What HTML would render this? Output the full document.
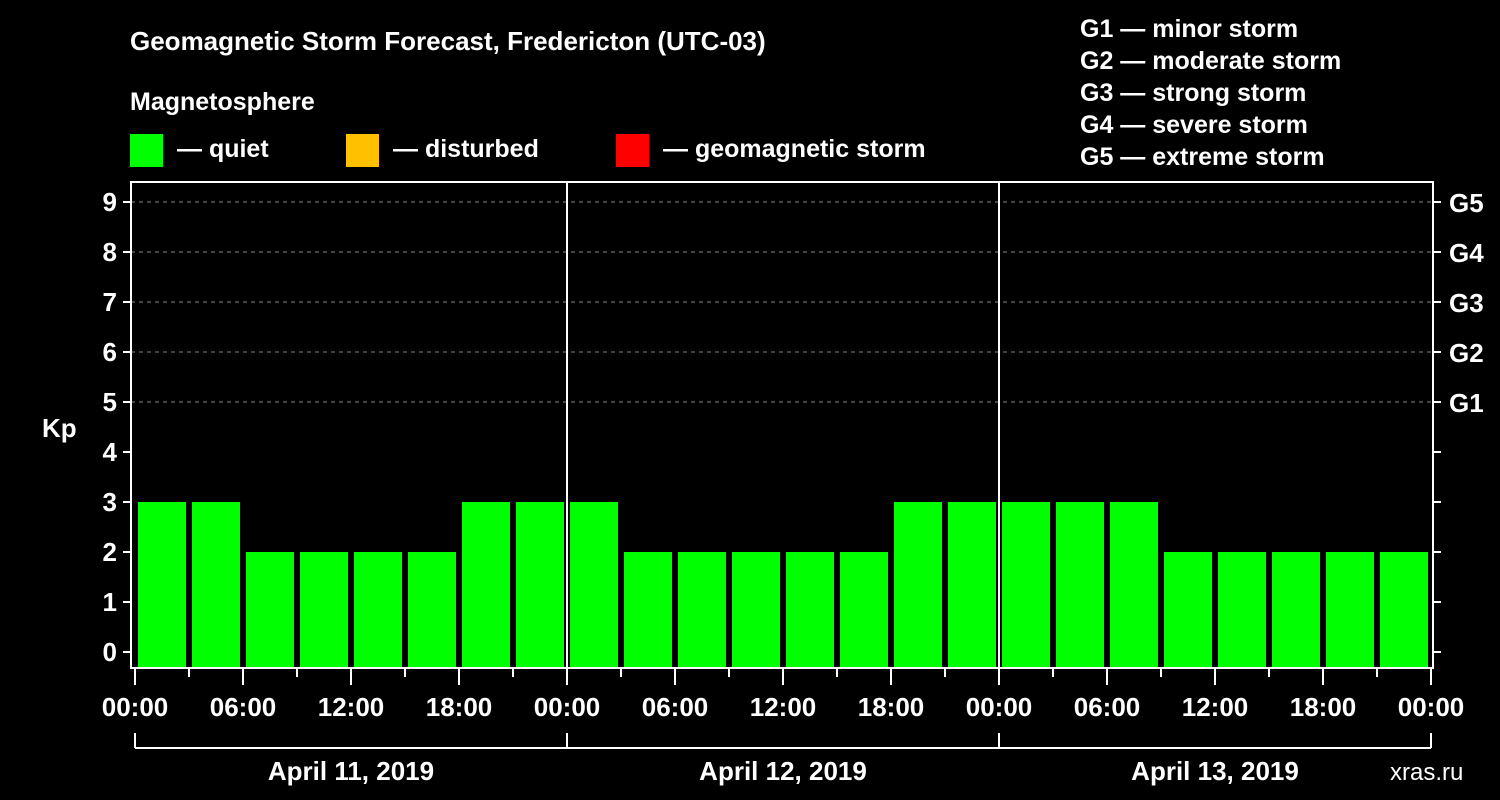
<!DOCTYPE html>
<html><head><meta charset="utf-8"><style>
html,body{margin:0;padding:0;background:#000;}
svg{display:block;font-family:"Liberation Sans",Arial,sans-serif;font-weight:bold;}
</style></head><body>
<svg id="c" width="1500" height="800" viewBox="0 0 1500 800">
<rect x="0" y="0" width="1500" height="800" fill="#000"/>
<text x="130" y="50" fill="#fff" font-size="26">Geomagnetic Storm Forecast, Fredericton (UTC-03)</text>
<text x="130" y="110" fill="#fff" font-size="25">Magnetosphere</text>
<g><rect x="130" y="134" width="33" height="33" fill="#00ff00"/><text x="177" y="157" fill="#fff" font-size="25">— quiet</text></g>
<g><rect x="346" y="134" width="33" height="33" fill="#ffc000"/><text x="393" y="157" fill="#fff" font-size="25">— disturbed</text></g>
<g><rect x="616" y="134" width="33" height="33" fill="#ff0000"/><text x="663" y="157" fill="#fff" font-size="25">— geomagnetic storm</text></g>
<g fill="#fff" font-size="25">
<text x="1080" y="37">G1 — minor storm</text>
<text x="1080" y="69">G2 — moderate storm</text>
<text x="1080" y="101">G3 — strong storm</text>
<text x="1080" y="133">G4 — severe storm</text>
<text x="1080" y="165">G5 — extreme storm</text>
</g>
<text x="42" y="437" fill="#fff" font-size="26">Kp</text>
<text x="1390" y="780" fill="#fff" font-size="24" font-weight="normal">xras.ru</text>
<g id="grid"></g><g id="bars"></g><g id="axes"></g>
</svg>
<script>
const days = ["April 11, 2019","April 12, 2019","April 13, 2019"];
const kpValues = [3,3,2,2,2,2,3,3, 3,2,2,2,2,2,3,3, 3,3,3,2,2,2,2,2];
const yTicks = [0,1,2,3,4,5,6,7,8,9];
const gLabels = ["G1","G2","G3","G4","G5"];
const xTickLabels = ["00:00","06:00","12:00","18:00"];
const NS="http://www.w3.org/2000/svg";
const X0=135, DAYW=432, SLOT=54, Y0=652, UNIT=50, BOTTOM=668, TOP=182, LEFT=131, RIGHT=1433;
const xs = i => X0 + i*SLOT;
const ys = v => Y0 - v*UNIT;
function mk(tag, parent){const e=document.createElementNS(NS,tag);document.getElementById(parent).appendChild(e);return e;}
function line(p,x1,y1,x2,y2,w,dash,col){const l=mk('line',p);l.setAttribute('x1',x1);l.setAttribute('y1',y1);l.setAttribute('x2',x2);l.setAttribute('y2',y2);l.setAttribute('stroke',col||'#fff');l.setAttribute('stroke-width',w||2);if(dash)l.setAttribute('stroke-dasharray',dash);return l;}
function text(p,x,y,s,anchor,size){const t=mk('text',p);t.setAttribute('x',x);t.setAttribute('y',y);t.setAttribute('fill','#fff');t.setAttribute('font-size',size||25);if(anchor)t.setAttribute('text-anchor',anchor);t.textContent=s;return t;}
// grid for G levels
gLabels.forEach((g,i)=>{const v=5+i;
 const l=line('grid',LEFT,ys(v),RIGHT,ys(v),1,'4,4','#888');
 
 
 const t=text('axes',1449,ys(v)+10,g,null,26);
 
 
});
// bars
kpValues.forEach((v,i)=>{const r=mk('rect','bars');
 r.setAttribute('x',xs(i)+3);r.setAttribute('width',SLOT-6);
 r.setAttribute('y',ys(v));r.setAttribute('height',BOTTOM-ys(v));
 r.setAttribute('fill',v>=5?'#ff0000':(v>=4?'#ffc000':'#00ff00'));
 
 
});
// frame
const fr=mk('rect','axes');fr.setAttribute('x',LEFT);fr.setAttribute('y',TOP);fr.setAttribute('width',RIGHT-LEFT);fr.setAttribute('height',BOTTOM-TOP);fr.setAttribute('fill','none');fr.setAttribute('stroke','#fff');fr.setAttribute('stroke-width',2);


// y ticks
yTicks.forEach(v=>{line('axes',LEFT-8,ys(v),LEFT,ys(v));line('axes',RIGHT,ys(v),RIGHT+8,ys(v));
 const t=text('axes',LEFT-14,ys(v)+9,String(v),'end',26);
 
 
});
// day separators, x ticks, labels
for(let d=0; d<=days.length; d++){
 const x=X0+d*DAYW;
 if(d>0&&d<days.length){const s=line('axes',x,TOP,x,BOTTOM,2);}
}
for(let i=0;i<=kpValues.length;i++){
 const x=xs(i); const major=i%2===0;
 line('axes',x,BOTTOM,x,BOTTOM+(major?17:9),2);
 if(major){const t=text('axes',x,716,xTickLabels[(i/2)%4],'middle',26);
  
  }
}
// day brackets
line('axes',X0,748,X0+days.length*DAYW,748,2);
days.forEach((d,i)=>{
 line('axes',X0+i*DAYW,733,X0+i*DAYW,748,2);
 const t=text('axes',X0+i*DAYW+DAYW/2,780,d,'middle',26);
 
 
});
line('axes',X0+days.length*DAYW,733,X0+days.length*DAYW,748,2);
</script>
</body></html>
